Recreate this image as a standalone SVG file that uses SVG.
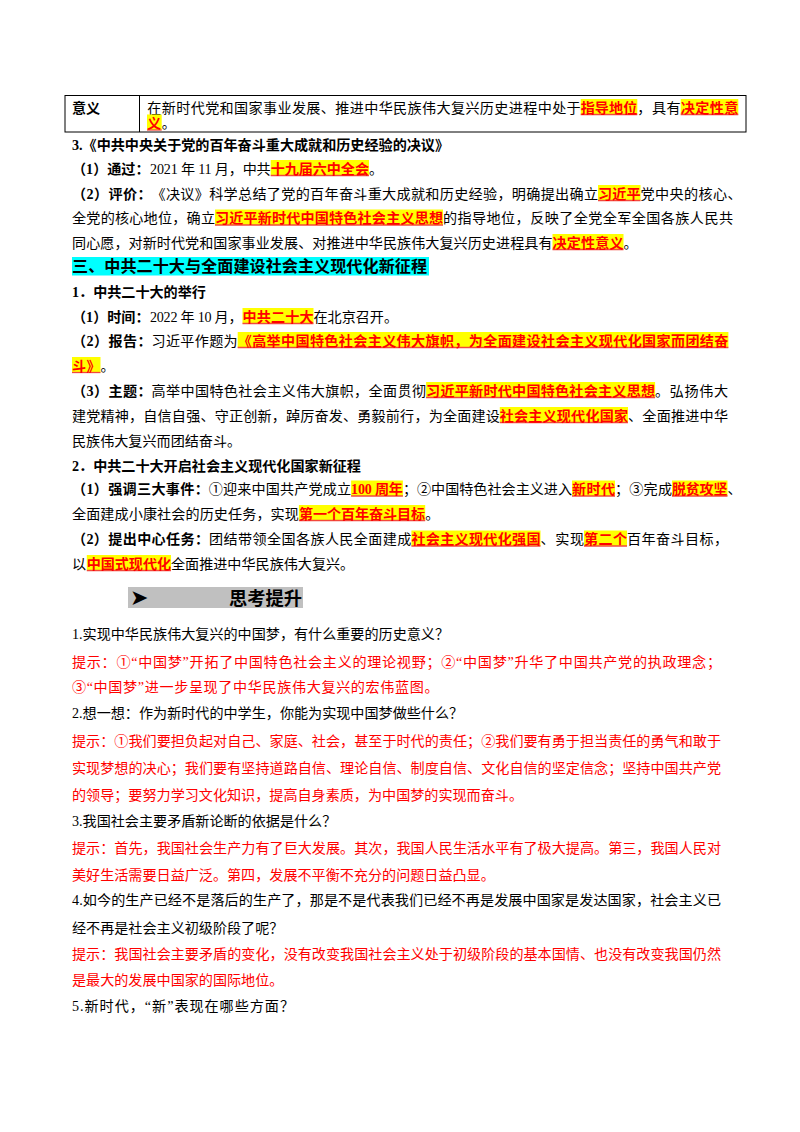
<svg xmlns="http://www.w3.org/2000/svg" width="800" height="1132" viewBox="0 0 800 1132">
<style>
text{font-family:"Liberation Serif","Noto Sans CJK SC",serif;font-size:14.1px;fill:#000}
.b{font-weight:700}
.r{fill:#FF0000}
.h{font-weight:700;fill:#FF0000}
.hb{fill:#FFFF00}
.u{stroke:#F2483C;stroke-width:1.3}
.sec{font-size:16.1px;font-weight:700}
.tb{fill:none;stroke:#000;stroke-width:1}
</style>
<rect width="800" height="1132" fill="#fff"/>

<g id="table">
<rect class="tb" x="65" y="95.5" width="681" height="36.5"/>
<line class="tb" x1="139.5" y1="95.5" x2="139.5" y2="132"/>
<text class="b" x="72" y="112.5">意义</text>
<rect class="hb" x="580.7" y="99" width="56.6" height="15.5"/><line class="u" x1="580.7" x2="637.3" y1="114.5" y2="114.5"/>
<rect class="hb" x="680.7" y="99" width="57.6" height="15.5"/><line class="u" x1="680.7" x2="738.3" y1="114.5" y2="114.5"/>
<text x="147.3" y="112.5" textLength="433.4" lengthAdjust="spacing">在新时代党和国家事业发展、推进中华民族伟大复兴历史进程中处于</text>
<text class="h" x="580.7" y="112.5" textLength="56.6" lengthAdjust="spacing">指导地位</text>
<text x="637.3" y="112.5" textLength="43.4" lengthAdjust="spacing">，具有</text>
<text class="h" x="680.7" y="112.5" textLength="57.6" lengthAdjust="spacing">决定性意</text>
<rect class="hb" x="147" y="114.5" width="14.7" height="15.5"/><line class="u" x1="147" x2="161.7" y1="130" y2="130"/>
<text class="h" x="147" y="128">义</text>
<text x="161.7" y="128">。</text>
</g>

<g id="resolution">
<text class="b" x="72" y="149.5">3.《中共中央关于党的百年奋斗重大成就和历史经验的决议》</text>
<text class="b" x="72" y="173.5">（1）通过：</text>
<text x="150" y="173.5" textLength="120.7" lengthAdjust="spacing">2021 年 11 月，中共</text>
<rect class="hb" x="270.7" y="160" width="98.3" height="15.5"/><line class="u" x1="270.7" x2="369" y1="175.5" y2="175.5"/>
<text class="h" x="270.7" y="173.5" textLength="98.3" lengthAdjust="spacing">十九届六中全会</text>
<text x="369" y="173.5">。</text>

<text class="b" x="72" y="198.5" textLength="79.5" lengthAdjust="spacing">（2）评价：</text>
<text x="151.5" y="198.5" textLength="446.5" lengthAdjust="spacing">《决议》科学总结了党的百年奋斗重大成就和历史经验，明确提出确立</text>
<rect class="hb" x="598" y="185" width="42.5" height="15.5"/><line class="u" x1="598" x2="640.5" y1="200.5" y2="200.5"/>
<text class="h" x="598" y="198.5" textLength="42.5" lengthAdjust="spacing">习近平</text>
<text x="640.5" y="198.5" textLength="101" lengthAdjust="spacing">党中央的核心、</text>

<text x="72" y="223" textLength="143" lengthAdjust="spacing">全党的核心地位，确立</text>
<rect class="hb" x="215" y="209.5" width="228" height="15.5"/><line class="u" x1="215" x2="443" y1="225" y2="225"/>
<text class="h" x="215" y="223" textLength="228" lengthAdjust="spacing">习近平新时代中国特色社会主义思想</text>
<text x="443" y="223" textLength="290" lengthAdjust="spacing">的指导地位，反映了全党全军全国各族人民共</text>

<text x="72" y="247.5" textLength="480.5" lengthAdjust="spacing">同心愿，对新时代党和国家事业发展、对推进中华民族伟大复兴历史进程具有</text>
<rect class="hb" x="552.5" y="234" width="71" height="15.5"/><line class="u" x1="552.5" x2="623.5" y1="249.5" y2="249.5"/>
<text class="h" x="552.5" y="247.5" textLength="71" lengthAdjust="spacing">决定性意义</text>
<text x="623.5" y="247.5">。</text>
</g>

<g id="congress">
<rect x="72" y="257" width="357" height="18.5" fill="#00FFFF"/>
<text class="sec" x="72" y="272" textLength="355" lengthAdjust="spacing">三、中共二十大与全面建设社会主义现代化新征程</text>

<text class="b" x="72" y="296.5">1．中共二十大的举行</text>

<text class="b" x="72" y="321.5">（1）时间：</text>
<text x="150" y="321.5" textLength="92.5" lengthAdjust="spacing">2022 年 10 月，</text>
<rect class="hb" x="242.5" y="308" width="71" height="15.5"/><line class="u" x1="242.5" x2="313.5" y1="323.5" y2="323.5"/>
<text class="h" x="242.5" y="321.5" textLength="71" lengthAdjust="spacing">中共二十大</text>
<text x="313.5" y="321.5">在北京召开。</text>

<text class="b" x="72" y="345.5" textLength="79.5" lengthAdjust="spacing">（2）报告：</text>
<text x="151.5" y="345.5" textLength="86.2" lengthAdjust="spacing">习近平作题为</text>
<rect class="hb" x="237.7" y="332" width="490.7" height="15.5"/><line class="u" x1="237.7" x2="728.4" y1="347.5" y2="347.5"/>
<text class="h" x="237.7" y="345.5" textLength="490.7" lengthAdjust="spacing">《高举中国特色社会主义伟大旗帜，为全面建设社会主义现代化国家而团结奋</text>
<rect class="hb" x="72" y="357" width="28.5" height="15.5"/><line class="u" x1="72" x2="100.5" y1="372.5" y2="372.5"/>
<text class="h" x="72" y="370.5" textLength="28.5" lengthAdjust="spacing">斗》</text>
<text x="100.5" y="370.5">。</text>

<text class="b" x="72" y="395.5" textLength="79.5" lengthAdjust="spacing">（3）主题：</text>
<text x="151.5" y="395.5" textLength="274.6" lengthAdjust="spacing">高举中国特色社会主义伟大旗帜，全面贯彻</text>
<rect class="hb" x="426.1" y="382" width="229" height="15.5"/><line class="u" x1="426.1" x2="655.1" y1="397.5" y2="397.5"/>
<text class="h" x="426.1" y="395.5" textLength="229" lengthAdjust="spacing">习近平新时代中国特色社会主义思想</text>
<text x="655.1" y="395.5" textLength="73" lengthAdjust="spacing">。弘扬伟大</text>
<text x="72" y="420.5" textLength="427.8" lengthAdjust="spacing">建党精神，自信自强、守正创新，踔厉奋发、勇毅前行，为全面建设</text>
<rect class="hb" x="499.8" y="407" width="128.2" height="15.5"/><line class="u" x1="499.8" x2="628" y1="422.5" y2="422.5"/>
<text class="h" x="499.8" y="420.5" textLength="128.2" lengthAdjust="spacing">社会主义现代化国家</text>
<text x="628" y="420.5" textLength="100" lengthAdjust="spacing">、全面推进中华</text>
<text x="72" y="445.5">民族伟大复兴而团结奋斗。</text>

<text class="b" x="72" y="470.5">2．中共二十大开启社会主义现代化国家新征程</text>

<text class="b" x="72" y="494" textLength="136.8" lengthAdjust="spacing">（1）强调三大事件：</text>
<text x="208.8" y="494" textLength="142.3" lengthAdjust="spacing">①迎来中国共产党成立</text>
<rect class="hb" x="351.1" y="480.5" width="51.8" height="15.5"/><line class="u" x1="351.1" x2="402.9" y1="496" y2="496"/>
<text class="h" x="351.1" y="494" textLength="51.8" lengthAdjust="spacing">100 周年</text>
<text x="402.9" y="494" textLength="169.1" lengthAdjust="spacing">；②中国特色社会主义进入</text>
<rect class="hb" x="572" y="480.5" width="43" height="15.5"/><line class="u" x1="572" x2="615" y1="496" y2="496"/>
<text class="h" x="572" y="494" textLength="43" lengthAdjust="spacing">新时代</text>
<text x="615" y="494" textLength="57" lengthAdjust="spacing">；③完成</text>
<rect class="hb" x="672" y="480.5" width="55.5" height="15.5"/><line class="u" x1="672" x2="727.5" y1="496" y2="496"/>
<text class="h" x="672" y="494" textLength="55.5" lengthAdjust="spacing">脱贫攻坚</text>
<text x="727.5" y="494">、</text>

<text x="72" y="518.5" textLength="226.9" lengthAdjust="spacing">全面建成小康社会的历史任务，实现</text>
<rect class="hb" x="298.9" y="505" width="126.3" height="15.5"/><line class="u" x1="298.9" x2="425.2" y1="520.5" y2="520.5"/>
<text class="h" x="298.9" y="518.5" textLength="126.3" lengthAdjust="spacing">第一个百年奋斗目标</text>
<text x="425.2" y="518.5">。</text>

<text class="b" x="72" y="544" textLength="137" lengthAdjust="spacing">（2）提出中心任务：</text>
<text x="209" y="544" textLength="202.4" lengthAdjust="spacing">团结带领全国各族人民全面建成</text>
<rect class="hb" x="411.4" y="530.5" width="129.1" height="15.5"/><line class="u" x1="411.4" x2="540.5" y1="546" y2="546"/>
<text class="h" x="411.4" y="544" textLength="129.1" lengthAdjust="spacing">社会主义现代化强国</text>
<text x="540.5" y="544" textLength="43.5" lengthAdjust="spacing">、实现</text>
<rect class="hb" x="584" y="530.5" width="43" height="15.5"/><line class="u" x1="584" x2="627" y1="546" y2="546"/>
<text class="h" x="584" y="544" textLength="43" lengthAdjust="spacing">第二个</text>
<text x="627" y="544" textLength="101" lengthAdjust="spacing">百年奋斗目标，</text>

<text x="72" y="568.5">以</text>
<rect class="hb" x="86.8" y="555" width="84.2" height="15.5"/><line class="u" x1="86.8" x2="171" y1="570.5" y2="570.5"/>
<text class="h" x="86.8" y="568.5" textLength="84.2" lengthAdjust="spacing">中国式现代化</text>
<text x="171" y="568.5">全面推进中华民族伟大复兴。</text>
</g>

<g id="think-heading">
<rect x="128" y="587" width="175" height="21" fill="#C0C0C0"/>
<text x="130" y="605" style="font-family:'DejaVu Sans',sans-serif;font-size:22px">➤</text>
<text x="229" y="604.5" style="font-family:'Noto Sans CJK SC',sans-serif;font-size:18.3px;font-weight:700">思考提升</text>
</g>

<g id="questions">
<text x="72" y="638.5">1.实现中华民族伟大复兴的中国梦，有什么重要的历史意义？</text>
<text class="r" x="72" y="666.5" textLength="649" lengthAdjust="spacing">提示：①“中国梦”开拓了中国特色社会主义的理论视野；②“中国梦”升华了中国共产党的执政理念；</text>
<text class="r" x="72" y="692" textLength="366.6" lengthAdjust="spacing">③“中国梦”进一步呈现了中华民族伟大复兴的宏伟蓝图。</text>
<text x="72" y="718">2.想一想：作为新时代的中学生，你能为实现中国梦做些什么？</text>
<text class="r" x="72" y="746" textLength="649" lengthAdjust="spacing">提示：①我们要担负起对自己、家庭、社会，甚至于时代的责任；②我们要有勇于担当责任的勇气和敢于</text>
<text class="r" x="72" y="773" textLength="649" lengthAdjust="spacing">实现梦想的决心；我们要有坚持道路自信、理论自信、制度自信、文化自信的坚定信念；坚持中国共产党</text>
<text class="r" x="72" y="799.5">的领导；要努力学习文化知识，提高自身素质，为中国梦的实现而奋斗。</text>
<text x="72" y="825.5">3.我国社会主要矛盾新论断的依据是什么？</text>
<text class="r" x="72" y="852.5" textLength="649" lengthAdjust="spacing">提示：首先，我国社会生产力有了巨大发展。其次，我国人民生活水平有了极大提高。第三，我国人民对</text>
<text class="r" x="72" y="879.5">美好生活需要日益广泛。第四，发展不平衡不充分的问题日益凸显。</text>
<text x="72" y="905" textLength="649" lengthAdjust="spacing">4.如今的生产已经不是落后的生产了，那是不是代表我们已经不再是发展中国家是发达国家，社会主义已</text>
<text x="72" y="932.5">经不再是社会主义初级阶段了呢？</text>
<text class="r" x="72" y="958.5" textLength="649" lengthAdjust="spacing">提示：我国社会主要矛盾的变化，没有改变我国社会主义处于初级阶段的基本国情、也没有改变我国仍然</text>
<text class="r" x="72" y="984.5">是最大的发展中国家的国际地位。</text>
<text x="72" y="1010.5" textLength="222" lengthAdjust="spacing">5.新时代，“新”表现在哪些方面？</text>
</g>
</svg>
